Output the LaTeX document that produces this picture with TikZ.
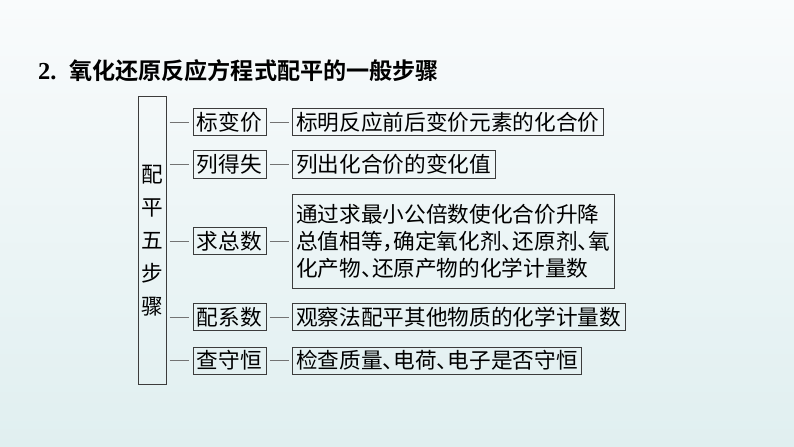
\documentclass[tikz,border=0pt]{standalone}
\usepackage{fontspec}
\setmainfont{Noto Sans CJK SC}
\newfontfamily\titlefont{Noto Sans CJK SC Bold}
\newfontfamily\numfont{Liberation Serif}
\usetikzlibrary{positioning,shapes}

\definecolor{bgtop}{RGB}{249,251,252}
\definecolor{bgbot}{RGB}{224,239,240}
\definecolor{boxline}{RGB}{60,60,60}

\newcommand{\dun}{、\hspace{-0.5em}}
\newcommand{\dou}{，\hspace{-0.5em}}

\tikzset{
  stepbox/.style={draw=boxline, line width=0.6pt, inner xsep=3pt, inner ysep=1pt,
    minimum height=0.72cm, font=\fontsize{16.3}{20.25}\selectfont},
  longbox/.style={stepbox, anchor=west},
  link/.style={draw=black!55, line width=0.5pt, shorten <=2.5pt, shorten >=2.5pt}
}

\begin{document}
\begin{tikzpicture}
%      \draw[help lines] (0, -12) grid (21, 0);
      \shade[top color=bgtop, bottom color=bgbot] (0,0) rectangle (21.005,-11.825);
      \useasboundingbox (0,0) rectangle (21.005,-11.825);

      \node[anchor=west, inner sep=0pt, font=\titlefont\fontsize{17.4}{22}\selectfont] (title) at (1.0,-1.86)
        {{\numfont\bfseries\fontsize{18.4}{22}\selectfont 2.}\hspace{0.55em}氧化还原反应方程式配平的一般步骤};

      \node[draw=boxline, line width=0.6pt, minimum width=0.74cm, minimum height=7.6cm,
        inner sep=0pt, align=center, font=\fontsize{16.3}{24.75}\selectfont] (pf) at (4.02,-6.36)
        {配\\平\\五\\步\\骤};

      \node[stepbox] (bbj) at (6.07,-3.23) {标变价};
      \node[stepbox] (ldx) at (6.07,-4.35) {列得失};
      \node[stepbox] (qzs) at (6.07,-6.38) {求总数};
      \node[stepbox] (pxs) at (6.07,-8.39) {配系数};
      \node[stepbox] (csh) at (6.07,-9.54) {查守恒};

      \node[longbox] (bbjt) at (7.72,-3.23) {标明反应前后变价元素的化合价};
      \node[longbox] (ldxt) at (7.72,-4.35) {列出化合价的变化值};
      \node[longbox, minimum height=2.49cm, align=left] (qzst) at (7.72,-6.38)
        {通过求最小公倍数使化合价升降\\总值相等\dou 确定氧化剂\dun 还原剂\dun 氧\\化产物\dun 还原产物的化学计量数};
      \node[longbox] (pxst) at (7.72,-8.39) {观察法配平其他物质的化学计量数};
      \node[longbox] (csht) at (7.72,-9.54) {检查质量\dun 电荷\dun 电子是否守恒};

      \foreach \s/\t in {bbj/bbjt, ldx/ldxt, qzs/qzst, pxs/pxst, csh/csht} {
        \draw[link] (pf.east |- \s) -- (\s);
        \draw[link] (\s) -- (\s -| \t.west);
      }
\end{tikzpicture}
\end{document}
